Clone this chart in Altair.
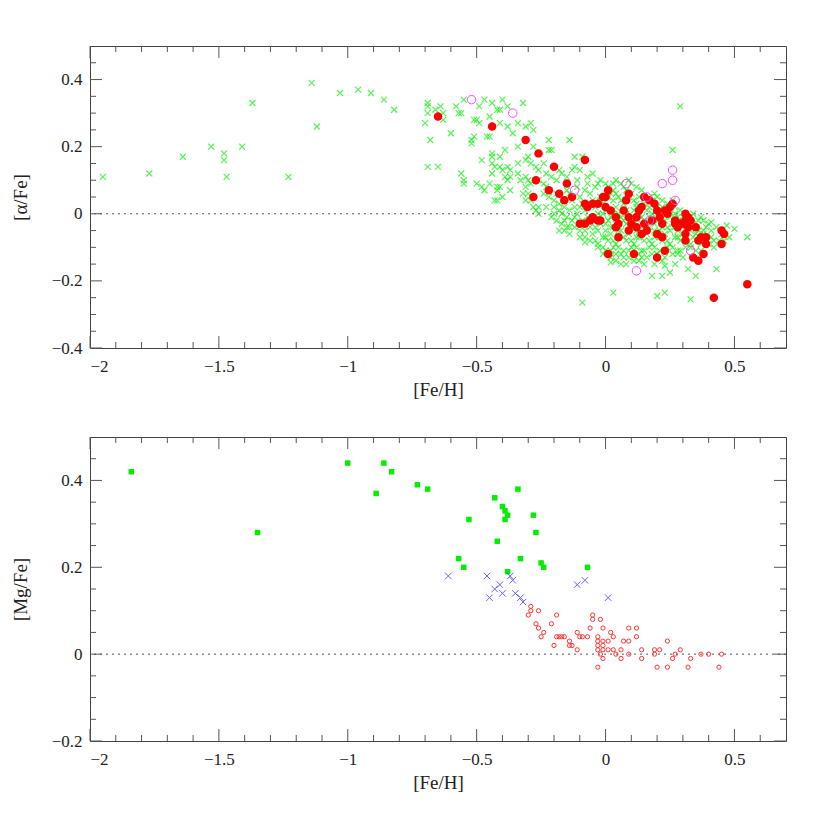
import altair as alt
import pandas as pd

# ---------------- data ----------------
# top panel: [alpha/Fe] vs [Fe/H]
alpha_green = [
    (-1.95, 0.11), (-1.77, 0.12), (-1.64, 0.17), (-1.53, 0.20), (-1.48, 0.18), (-1.48, 0.16),
    (-1.47, 0.11), (-1.41, 0.20), (-1.37, 0.33), (-1.23, 0.11), (-1.14, 0.39), (-1.12, 0.26),
    (-1.03, 0.36), (-0.96, 0.37), (-0.91, 0.36), (-0.86, 0.34), (-0.82, 0.31),
    (-0.70, 0.27), (-0.69, 0.33), (-0.69, 0.32), (-0.69, 0.30), (-0.68, 0.22), (-0.69, 0.14),
    (-0.66, 0.31), (-0.65, 0.14),
    (-0.64, 0.32), (-0.63, 0.30), (-0.63, 0.28), (-0.60, 0.24), (-0.58, 0.32), (-0.57, 0.30),
    (-0.56, 0.30), (-0.55, 0.34), (-0.49, 0.32), (-0.47, 0.34), (-0.44, 0.33), (-0.42, 0.31),
    (-0.41, 0.31), (-0.40, 0.34), (-0.38, 0.32), (-0.32, 0.33),
    (-0.51, 0.28), (-0.50, 0.28), (-0.49, 0.27), (-0.45, 0.29), (-0.41, 0.27), (-0.38, 0.26),
    (-0.34, 0.27), (-0.36, 0.24), (-0.31, 0.26), (-0.29, 0.27), (-0.28, 0.25),
    (-0.52, 0.22), (-0.52, 0.21), (-0.51, 0.23), (-0.46, 0.23), (-0.45, 0.23), (-0.34, 0.20),
    (-0.22, 0.22), (-0.14, 0.22), (-0.28, 0.20), (-0.22, 0.19), (-0.21, 0.19), (-0.39, 0.19),
    (-0.44, 0.18), (-0.44, 0.17), (-0.48, 0.16), (-0.41, 0.17), (-0.44, 0.15), (-0.43, 0.14),
    (-0.41, 0.14), (-0.40, 0.13), (-0.38, 0.14), (-0.37, 0.13), (-0.34, 0.15), (-0.34, 0.12),
    (-0.56, 0.12), (-0.55, 0.10), (-0.55, 0.09),
    (-0.50, 0.09), (-0.48, 0.08), (-0.47, 0.07), (-0.44, 0.12), (-0.42, 0.08), (-0.42, 0.07),
    (-0.41, 0.08), (-0.43, 0.04), (-0.42, 0.04), (-0.40, 0.05), (-0.45, 0.09),
    (-0.39, 0.11), (-0.38, 0.10), (-0.37, 0.11), (-0.33, 0.10), (-0.37, 0.07),
    (-0.31, 0.16), (-0.30, 0.17), (-0.29, 0.15), (-0.27, 0.14), (-0.26, 0.13), (-0.23, 0.12),
    (-0.24, 0.15),
    (-0.31, 0.11), (-0.30, 0.10), (-0.29, 0.09), (-0.31, 0.08), (-0.32, 0.06), (-0.30, 0.06),
    (-0.31, 0.04), (-0.29, 0.04), (-0.28, 0.02), (-0.27, 0.01), (-0.26, 0.00),
    (-0.26, 0.10), (-0.24, 0.09), (-0.23, 0.08), (-0.21, 0.11), (-0.19, 0.10), (-0.18, 0.13),
    (-0.17, 0.12), (-0.15, 0.11), (-0.13, 0.13), (-0.12, 0.14), (-0.10, 0.13), (-0.09, 0.17),
    (-0.12, 0.17),
    (-0.24, 0.06), (-0.22, 0.05), (-0.20, 0.04), (-0.18, 0.03), (-0.16, 0.02), (-0.26, 0.02),
    (-0.23, 0.02), (-0.20, 0.02), (-0.17, 0.00), (-0.15, -0.01), (-0.13, -0.02), (-0.17, -0.03),
    (-0.16, -0.05), (-0.15, -0.04),
    (-0.05, 0.12), (-0.02, 0.10), (0.04, 0.10), (0.09, 0.10), (-0.07, 0.09), (0.12, 0.08), (0.06, 0.09),
    (-0.11, 0.08), (-0.08, 0.07), (-0.04, 0.08), (0.01, 0.08), (0.03, 0.07), (0.08, 0.07), (0.14, 0.07),
    (0.17, 0.05),
    (-0.14, 0.06), (-0.10, 0.05), (-0.06, 0.06), (-0.02, 0.05), (0.02, 0.06), (0.05, 0.05), (0.10, 0.06),
    (0.13, 0.05), (0.19, 0.06), (0.22, 0.04),
    (-0.13, 0.04), (-0.09, 0.03), (-0.05, 0.04), (-0.01, 0.03), (0.03, 0.04), (0.07, 0.03), (0.11, 0.04),
    (0.15, 0.03), (0.18, 0.04), (0.24, 0.03), (0.27, 0.02),
    (-0.12, 0.02), (-0.08, 0.01), (-0.04, 0.02), (0.00, 0.01), (0.04, 0.02), (0.08, 0.01), (0.12, 0.02),
    (0.16, 0.01), (0.20, 0.02), (0.23, 0.01), (0.29, 0.01), (0.31, 0.00),
    (-0.21, -0.01), (-0.11, 0.00), (-0.07, -0.01), (-0.03, 0.00), (0.02, -0.01), (0.05, 0.00),
    (0.09, -0.01), (0.13, 0.00), (0.17, -0.01), (0.21, 0.00), (0.25, -0.01), (0.28, -0.01),
    (0.33, -0.01), (0.36, -0.02),
    (-0.19, -0.02), (-0.10, -0.03), (-0.06, -0.02), (-0.02, -0.03), (0.01, -0.02), (0.04, -0.03),
    (0.07, -0.02), (0.11, -0.03), (0.15, -0.02), (0.19, -0.03), (0.23, -0.02), (0.26, -0.03),
    (0.30, -0.02), (0.34, -0.03), (0.38, -0.02), (0.40, -0.03),
    (-0.18, -0.05), (-0.12, -0.04), (-0.08, -0.05), (-0.04, -0.04), (0.00, -0.05), (0.03, -0.04),
    (0.06, -0.05), (0.10, -0.04), (0.13, -0.05), (0.17, -0.04), (0.21, -0.05), (0.24, -0.04),
    (0.28, -0.05), (0.32, -0.04), (0.36, -0.05), (0.39, -0.04), (0.43, -0.04),
    (-0.14, -0.06), (-0.10, -0.07), (-0.05, -0.06), (-0.01, -0.07), (0.02, -0.06), (0.05, -0.07),
    (0.09, -0.06), (0.12, -0.07), (0.16, -0.06), (0.19, -0.07), (0.23, -0.06), (0.27, -0.07),
    (0.30, -0.06), (0.34, -0.07), (0.38, -0.06), (0.41, -0.07), (0.45, -0.06),
    (-0.06, -0.08), (-0.03, -0.09), (0.01, -0.08), (0.04, -0.09), (0.08, -0.08), (0.11, -0.09),
    (0.15, -0.08), (0.18, -0.09), (0.22, -0.08), (0.25, -0.09), (0.29, -0.08), (0.33, -0.09),
    (0.36, -0.08), (0.40, -0.09), (0.44, -0.08), (0.48, -0.07),
    (-0.03, -0.10), (0.00, -0.11), (0.03, -0.10), (0.07, -0.11), (0.10, -0.10), (0.14, -0.11),
    (0.17, -0.10), (0.21, -0.11), (0.24, -0.10), (0.28, -0.11), (0.31, -0.10), (0.35, -0.11),
    (0.42, -0.10),
    (-0.01, -0.12), (0.02, -0.13), (0.06, -0.12), (0.09, -0.13), (0.13, -0.12), (0.16, -0.13),
    (0.20, -0.12), (0.26, -0.12), (0.30, -0.13),
    (0.04, -0.14), (0.08, -0.15), (0.11, -0.14), (0.15, -0.15), (0.22, -0.14), (0.27, -0.15),
    # second, interleaved layer of the dense band
    (-0.22, 0.07), (-0.19, 0.06), (-0.15, 0.07), (-0.11, 0.10), (-0.07, 0.11), (-0.03, 0.09),
    (0.00, 0.09), (0.03, 0.09), (0.07, 0.08), (0.10, 0.09), (-0.20, 0.00), (-0.18, 0.01),
    (-0.14, 0.01), (-0.10, 0.02), (-0.06, 0.03), (-0.02, 0.04), (0.01, 0.05), (0.04, 0.06),
    (0.06, 0.04), (0.09, 0.05), (0.12, 0.03), (0.15, 0.05), (0.17, 0.02), (0.20, 0.05),
    (0.22, 0.02), (0.25, 0.01), (0.26, 0.04), (-0.16, -0.02), (-0.12, -0.01), (-0.09, -0.02),
    (-0.05, -0.01), (-0.01, 0.00), (0.03, 0.00), (0.06, -0.01), (0.08, 0.00), (0.11, 0.01),
    (0.14, -0.01), (0.18, 0.00), (0.20, -0.02), (0.24, 0.00), (0.27, 0.00), (0.30, -0.01),
    (0.34, 0.00), (0.37, -0.01), (-0.14, -0.04), (-0.10, -0.05), (-0.06, -0.04), (-0.03, -0.05),
    (0.00, -0.03), (0.02, -0.04), (0.05, -0.05), (0.08, -0.03), (0.12, -0.05), (0.14, -0.03),
    (0.16, -0.04), (0.19, -0.05), (0.22, -0.04), (0.25, -0.05), (0.27, -0.04), (0.31, -0.05),
    (0.33, -0.05), (0.35, -0.04), (0.38, -0.05), (0.41, -0.05), (-0.08, -0.07), (-0.04, -0.08),
    (0.00, -0.07), (0.03, -0.08), (0.07, -0.07), (0.10, -0.08), (0.13, -0.07), (0.17, -0.08),
    (0.21, -0.07), (0.24, -0.08), (0.28, -0.07), (0.31, -0.08), (0.35, -0.06), (0.37, -0.09),
    (0.42, -0.08), (0.46, -0.08), (-0.01, -0.10), (0.02, -0.11), (0.05, -0.10), (0.09, -0.11),
    (0.12, -0.10), (0.15, -0.11), (0.19, -0.10), (0.23, -0.11), (0.26, -0.10), (0.29, -0.11),
    (0.33, -0.10), (0.37, -0.11), (0.04, -0.12), (0.07, -0.13), (0.11, -0.12), (0.14, -0.13),
    (0.18, -0.12), (0.23, -0.13), (0.28, -0.12), (0.06, -0.15), (0.13, -0.14), (0.19, -0.15),
    (0.29, 0.32), (0.26, 0.19), (0.55, -0.07), (-0.09, -0.265), (0.03, -0.235), (0.20, -0.245),
    (0.23, -0.235), (0.33, -0.255), (0.02, -0.145), (0.18, -0.185), (0.22, -0.185), (0.25, -0.175),
    (0.23, -0.155), (0.32, -0.165), (0.35, -0.185), (0.43, -0.165), (0.50, -0.045), (0.47, -0.035),
    (0.41, -0.025), (-0.08, -0.085),
]

alpha_red = [
    (-0.65, 0.29), (-0.44, 0.26), (-0.31, 0.22), (-0.26, 0.18), (-0.08, 0.16), (-0.20, 0.14),
    (-0.27, 0.10), (-0.15, 0.09), (-0.22, 0.07), (-0.18, 0.06), (-0.28, 0.05), (-0.13, 0.05),
    (-0.16, 0.04), (0.01, 0.07), (-0.01, 0.05), (0.00, 0.05), (0.09, 0.06), (0.08, 0.04),
    (0.15, 0.05), (0.17, 0.04), (0.19, 0.03), (0.26, 0.03), (0.25, 0.02), (-0.08, 0.03),
    (-0.05, 0.03), (-0.03, 0.03), (-0.07, 0.02), (0.00, 0.02), (0.02, 0.01), (0.07, 0.01),
    (0.14, 0.02), (0.13, 0.01), (0.20, 0.01), (0.23, 0.01), (0.24, 0.00), (0.21, -0.01),
    (0.31, 0.00), (0.04, -0.01), (0.09, -0.01), (0.12, -0.01), (-0.05, -0.01), (-0.02, -0.02),
    (-0.03, -0.02), (-0.06, -0.02), (-0.10, -0.03), (-0.08, -0.03), (0.05, -0.03), (0.10, -0.03),
    (0.12, -0.04), (0.15, -0.03), (0.18, -0.02), (0.22, -0.03), (0.27, -0.03), (0.28, -0.04),
    (0.30, -0.03), (0.32, -0.04), (0.35, -0.04), (0.04, -0.04), (0.09, -0.05), (0.16, -0.05),
    (0.20, -0.06), (0.14, -0.06), (0.22, -0.07), (0.05, -0.07), (0.31, -0.06), (0.36, -0.08),
    (0.39, -0.07), (0.37, -0.07), (0.31, -0.08), (0.39, -0.09), (0.45, -0.05), (0.46, -0.06),
    (0.45, -0.09), (0.23, -0.11), (0.38, -0.12), (0.34, -0.13), (0.36, -0.14), (0.20, -0.13),
    (0.11, -0.12), (0.01, -0.12), (0.55, -0.21), (0.42, -0.25),
    (0.27, -0.02), (0.29, -0.03), (0.33, -0.02), (0.31, -0.02), (0.32, -0.01),
]

alpha_magenta = [
    (-0.52, 0.34), (-0.36, 0.30), (-0.12, 0.07), (0.08, 0.09), (0.16, 0.05), (0.22, 0.09),
    (0.26, 0.10), (0.26, 0.13), (0.27, 0.04), (0.17, -0.02), (0.33, -0.11), (0.12, -0.17),
]

# bottom panel: [Mg/Fe] vs [Fe/H]
mg_green = [
    (-1.84, 0.42), (-1.35, 0.28), (-1.00, 0.44), (-0.89, 0.37), (-0.86, 0.44), (-0.83, 0.42),
    (-0.73, 0.39), (-0.69, 0.38), (-0.34, 0.38), (-0.43, 0.36), (-0.40, 0.34), (-0.39, 0.33),
    (-0.38, 0.32), (-0.39, 0.31), (-0.53, 0.31), (-0.28, 0.32), (-0.27, 0.28), (-0.42, 0.26),
    (-0.57, 0.22), (-0.55, 0.20), (-0.33, 0.22), (-0.25, 0.21), (-0.24, 0.20), (-0.38, 0.19),
    (-0.07, 0.20),
]

mg_blue = [
    (-0.61, 0.18), (-0.46, 0.18), (-0.41, 0.16), (-0.43, 0.15), (-0.45, 0.13), (-0.40, 0.14),
    (-0.37, 0.18), (-0.36, 0.17), (-0.35, 0.14), (-0.33, 0.13), (-0.32, 0.12), (-0.11, 0.16),
    (-0.08, 0.17), (0.01, 0.13),
]

mg_red = [
    (-0.29, 0.11), (-0.29, 0.10), (-0.26, 0.10), (-0.30, 0.09), (-0.19, 0.09), (-0.05, 0.09),
    (-0.05, 0.08), (-0.02, 0.08), (-0.27, 0.07), (-0.21, 0.07), (-0.26, 0.06), (-0.06, 0.06),
    (-0.01, 0.06), (0.09, 0.06), (0.12, 0.06), (-0.24, 0.05), (-0.11, 0.05), (0.02, 0.05),
    (-0.25, 0.04), (-0.19, 0.04), (-0.18, 0.04), (-0.17, 0.04), (-0.16, 0.04), (-0.10, 0.04),
    (-0.09, 0.04), (-0.07, 0.04), (-0.03, 0.04), (0.03, 0.04), (0.12, 0.04), (-0.14, 0.03),
    (-0.03, 0.03), (-0.01, 0.03), (0.01, 0.03), (0.07, 0.03), (0.09, 0.03), (0.24, 0.03),
    (-0.20, 0.02), (-0.14, 0.02), (-0.13, 0.02), (-0.03, 0.02), (-0.01, 0.02), (-0.11, 0.01),
    (-0.03, 0.01), (-0.01, 0.01), (0.01, 0.01), (0.03, 0.01), (0.06, 0.01), (0.14, 0.01),
    (0.19, 0.01), (0.21, 0.01), (0.29, 0.01), (-0.02, 0.00), (0.04, 0.00), (0.09, 0.00),
    (0.19, 0.00), (0.27, 0.00), (0.37, 0.00), (0.40, 0.00), (0.45, 0.00), (-0.01, -0.01),
    (0.06, -0.01), (0.14, -0.01), (0.26, -0.01), (0.33, -0.01), (-0.03, -0.03), (0.20, -0.03),
    (0.24, -0.03), (0.32, -0.03), (0.44, -0.03),
]

x_major = [-2, -1.5, -1, -0.5, 0, 0.5]
x_minor = [-1.9, -1.8, -1.7, -1.6, -1.4, -1.3, -1.2, -1.1, -0.9, -0.8, -0.7, -0.6,
           -0.4, -0.3, -0.2, -0.1, 0.1, 0.2, 0.3, 0.4, 0.6]
y_top_major = [-0.4, -0.2, 0, 0.2, 0.4]
y_top_minor = [-0.35, -0.3, -0.25, -0.15, -0.1, -0.05, 0.05, 0.1, 0.15, 0.25, 0.3, 0.35, 0.45]
y_bot_major = [-0.2, 0, 0.2, 0.4]
y_bot_minor = [-0.15, -0.1, -0.05, 0.05, 0.1, 0.15, 0.25, 0.3, 0.35, 0.45]

# ---------------- chart ----------------
W = 696
H_TOP = 302
H_BOT = 304
FONT = "Liberation Serif"
XPATH = "M-1,-1L1,1M-1,1L1,-1"


def pts(pairs):
    return pd.DataFrame(pairs, columns=["x", "y"])


def panel(ydom, ytitle, ymaj, ymin, height, layers_spec):
    xs = alt.Scale(domain=[-2, 0.7], nice=False, zero=False)
    ys = alt.Scale(domain=ydom, nice=False, zero=False)
    xax = alt.Axis(values=x_major, format="~g", title="[Fe/H]", ticks=False, domain=False,
                   grid=False, labelPadding=10, titlePadding=6,
                   labelFont=FONT, labelFontSize=17, labelColor="#222222",
                   titleFont=FONT, titleFontSize=19, titleFontWeight="normal", titleColor="#222222")
    yax = alt.Axis(values=ymaj, format="~g", title=ytitle, ticks=False, domain=False,
                   grid=False, labelPadding=8, titlePadding=21,
                   labelFont=FONT, labelFontSize=17, labelColor="#222222",
                   titleFont=FONT, titleFontSize=19, titleFontWeight="normal", titleColor="#222222")

    layers = []
    zero = alt.Chart(pd.DataFrame({"y": [0]})).mark_rule(
        color="#555555", strokeDash=[2, 4], strokeWidth=1
    ).encode(y=alt.Y("y:Q", scale=ys, axis=yax))
    layers.append(zero)

    for df, mark in layers_spec:
        layers.append(
            alt.Chart(df).mark_point(clip=True, **mark).encode(
                x=alt.X("x:Q", scale=xs, axis=xax),
                y=alt.Y("y:Q", scale=ys, axis=yax),
            )
        )

    tick_color = "#555555"
    for vals, ln in ((x_major, 12), (x_minor, 6)):
        d = pd.DataFrame({"x": vals})
        layers.append(alt.Chart(d).mark_rule(color=tick_color, strokeWidth=1).encode(
            x=alt.X("x:Q", scale=xs, axis=xax), y=alt.value(height), y2=alt.value(height - ln)))
        layers.append(alt.Chart(d).mark_rule(color=tick_color, strokeWidth=1).encode(
            x=alt.X("x:Q", scale=xs, axis=xax), y=alt.value(0), y2=alt.value(ln)))
    for vals, ln in ((ymaj, 12), (ymin, 6)):
        d = pd.DataFrame({"y": vals})
        layers.append(alt.Chart(d).mark_rule(color=tick_color, strokeWidth=1).encode(
            y=alt.Y("y:Q", scale=ys, axis=yax), x=alt.value(0), x2=alt.value(ln)))
        layers.append(alt.Chart(d).mark_rule(color=tick_color, strokeWidth=1).encode(
            y=alt.Y("y:Q", scale=ys, axis=yax), x=alt.value(W), x2=alt.value(W - ln)))

    return alt.layer(*layers).properties(width=W, height=height)


top = panel(
    [-0.4, 0.5], "[α/Fe]", y_top_major, y_top_minor, H_TOP,
    [
        (pts(alpha_green), dict(shape=XPATH, size=36, filled=False, color="#11ee11", strokeWidth=1.2)),
        (pts(alpha_red), dict(shape="circle", size=72, filled=True, color="#ff0000", opacity=1)),
        (pts(alpha_magenta), dict(shape="circle", size=72, filled=False, color="#ff44ff", strokeWidth=1, opacity=1)),
    ],
)

bottom = panel(
    [-0.2, 0.5], "[Mg/Fe]", y_bot_major, y_bot_minor, H_BOT,
    [
        (pts(mg_green), dict(shape="square", size=30, filled=True, color="#00ee00", opacity=1)),
        (pts(mg_blue), dict(shape=XPATH, size=42, filled=False, color="#2222ff", strokeWidth=1)),
        (pts(mg_red), dict(shape="circle", size=18, filled=False, color="#ff3333", strokeWidth=1, opacity=1)),
    ],
)

chart = alt.vconcat(top, bottom, spacing=36).properties(
    padding={"left": 2, "top": 37, "right": 5, "bottom": 5},
    background="white",
).configure_view(
    stroke="#444444", strokeWidth=1
)

chart.save("out.html", embed_options={"renderer": "svg", "actions": False})
